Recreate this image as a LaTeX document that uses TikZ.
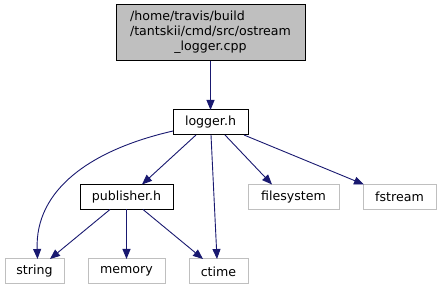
\documentclass[tikz,border=0pt]{standalone}
\usepackage{fontspec}
\setmainfont{DejaVu Sans}
\usetikzlibrary{arrows.meta,calc}
\definecolor{edgeblue}{HTML}{191970}
\definecolor{boxgray}{HTML}{BFBFBF}
\begin{document}
\begin{tikzpicture}[x=1pt,y=-1pt,
  every node/.style={inner sep=0pt,outer sep=0pt,font=\fontsize{12.6}{15}\selectfont},
  filebox/.style={draw=black,line width=1pt,fill=white,minimum height=25pt},
  rootbox/.style={draw=black,line width=1pt,fill=boxgray},
  sysbox/.style={draw=boxgray,line width=1pt,fill=white,minimum height=25pt},
  dep/.style={draw=edgeblue,line width=0.9pt,-{Triangle[length=10pt,width=8pt]}}]
\useasboundingbox (0,0) rectangle (442,291);

% nodes
\node[rootbox,minimum width=189pt,minimum height=56pt] (root) at (210.5,33)
  {\begin{tabular}{@{}l@{}}/home/travis/build\\/tantskii/cmd/src/ostream\\\multicolumn{1}{@{}c@{}}{\_logger.cpp}\end{tabular}};
\node[filebox,minimum width=75pt] (logger) at (210.5,122.5) {logger.h};
\node[filebox,minimum width=93pt] (publisher) at (126.5,197) {publisher.h};
\node[sysbox,minimum width=91pt] (filesystem) at (293.5,197) {filesystem};
\node[sysbox,minimum width=73pt] (fstream) at (399.5,197) {fstream};
\node[sysbox,minimum width=59pt] (string) at (34.5,271.5) {string};
\node[sysbox,minimum width=77pt] (memory) at (126.5,271.5) {memory};
\node[sysbox,minimum width=59pt] (ctime) at (218.5,271.5) {ctime};

% include edges
\draw[dep] (root.south) -- (logger.north);
\draw[dep] ($(logger.west)+(0,8.5)$) .. controls (90,150) and (35,190) .. ($(string.north)+(3,0)$);
\draw[dep] ($(logger.south)+(-14.5,0)$) -- ($(publisher.north)+(15.5,0)$);
\draw[dep] ($(logger.south)+(0.5,0)$) -- ($(ctime.north)+(-1.5,0)$);
\draw[dep] ($(logger.south)+(14.5,0)$) -- ($(filesystem.north)+(-21.5,0)$);
\draw[dep] ($(logger.south)+(33.5,0)$) -- ($(fstream.north west)+(1,0)$);
\draw[dep] ($(publisher.south)+(-16.5,0)$) -- ($(string.north)+(15.5,0)$);
\draw[dep] (publisher.south) -- (memory.north);
\draw[dep] ($(publisher.south)+(16.5,0)$) -- ($(ctime.north)+(-15.5,0)$);
\end{tikzpicture}
\end{document}
